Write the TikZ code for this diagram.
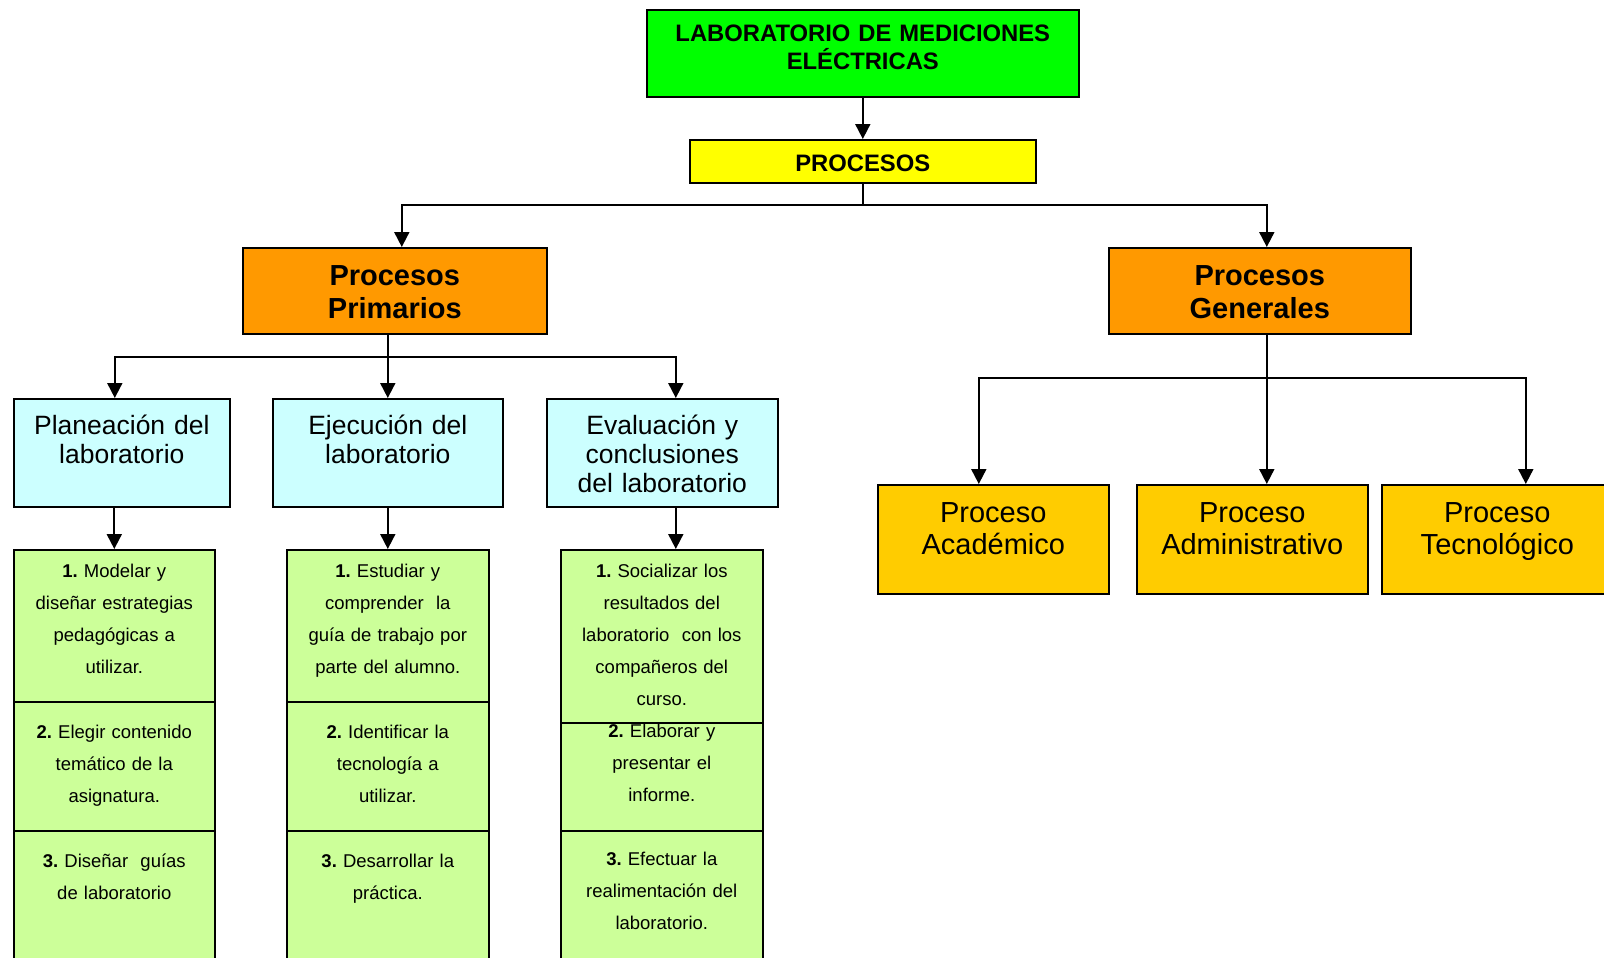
\documentclass[tikz,border=0pt]{standalone}
\usepackage{fontspec}
\setmainfont{Liberation Sans}
\usetikzlibrary{arrows.meta}
\definecolor{labgreen}{HTML}{00FF00}
\definecolor{procyellow}{HTML}{FFFF00}
\definecolor{mainorange}{HTML}{FF9900}
\definecolor{phasecyan}{HTML}{CCFFFF}
\definecolor{taskgreen}{HTML}{CCFF99}
\definecolor{areagold}{HTML}{FFCC00}
\frenchspacing

\begin{document}
\begin{tikzpicture}[
  x=1pt, y=-1pt,
  box/.style={draw, line width=1.6pt, inner sep=0pt, anchor=north west, align=center},
  dims/.style n args={3}{text width=#1pt, text height=#2pt, text depth=#3pt},
  head/.style={box, font=\bfseries\fontsize{23.8}{28.5}\selectfont},
  group/.style={box, fill=mainorange, font=\bfseries\fontsize{29}{33}\selectfont},
  phase/.style={box, fill=phasecyan, font=\fontsize{26.5}{29}\selectfont},
  task/.style={box, fill=taskgreen, font=\fontsize{18.5}{32}\selectfont},
  area/.style={box, fill=areagold, font=\fontsize{29}{32}\selectfont},
  link/.style={line width=1.9pt, -{Triangle[width=15pt,length=15pt]}}
]
\useasboundingbox (0,0) rectangle (1604,958);

% top
\node[head, fill=labgreen, dims={432}{31.5}{55.5}] (lab) at (646,9) {LABORATORIO DE MEDICIONES\\ELÉCTRICAS};
\node[head, fill=procyellow, dims={346}{32}{11}] (procesos) at (689,139) {PROCESOS};

% two groups
\node[group, dims={304}{38}{48}] (prim) at (242,247) {Procesos\\Primarios};
\node[group, dims={302}{38}{48}] (gen) at (1108,247) {Procesos\\Generales};

% phases of the lab
\node[phase, dims={216}{36}{72}] (plan) at (13,398) {Planeación del\\laboratorio};
\node[phase, dims={230}{36}{72}] (ejec) at (272,398) {Ejecución del\\laboratorio};
\node[phase, dims={231}{36}{72}] (eval) at (546,398) {Evaluación y\\conclusiones\\del laboratorio};

% tasks
\node[task, dims={201}{28}{124}] (c11) at (13,549) {\textbf{1.} Modelar y\\diseñar estrategias\\pedagógicas a\\utilizar.};
\node[task, dims={201}{37}{92}] (c12) at (13,701) {\textbf{2.} Elegir contenido\\temático de la\\asignatura.};
\node[task, dims={201}{37}{108}] (c13) at (13,830) {\textbf{3.} Diseñar\ \ guías\\de laboratorio};
\node[task, dims={202}{28}{124}] (c21) at (286,549) {\textbf{1.} Estudiar y\\comprender\ \ la\\guía de trabajo por\\parte del alumno.};
\node[task, dims={202}{37}{92}] (c22) at (286,701) {\textbf{2.} Identificar la\\tecnología a\\utilizar.};
\node[task, dims={202}{37}{108}] (c23) at (286,830) {\textbf{3.} Desarrollar la\\práctica.};
\node[task, dims={202}{28}{145}] (c31) at (560,549) {\textbf{1.} Socializar los\\resultados del\\laboratorio\ \ con los\\compañeros del\\curso.};
\node[task, dims={202}{15}{93}] (c32) at (560,722) {\textbf{2.} Elaborar y\\presentar el\\informe.};
\node[task, dims={202}{35}{110}] (c33) at (560,830) {\textbf{3.} Efectuar la\\realimentación del\\laboratorio.};

% general processes
\node[area, dims={231}{38}{71}] (acad) at (877,484) {Proceso\\Académico};
\node[area, dims={231}{38}{71}] (admin) at (1136,484) {Proceso\\Administrativo};
\node[area, dims={231}{38}{71}] (tecn) at (1381,484) {Proceso\\Tecnológico};

% connectors
\draw[link] (lab) -- (procesos);
\draw[link] (procesos.south) -- ++(0,21) -| ([xshift=7pt]prim.north);
\draw[link] (procesos.south) -- ++(0,21) -| ([xshift=7pt]gen.north);
\draw[link] ([xshift=-7pt]prim.south) -- ++(0,22) -| ([xshift=-7pt]plan.north);
\draw[link] ([xshift=-7pt]prim.south) -- ++(0,22) -| (ejec.north);
\draw[link] ([xshift=-7pt]prim.south) -- ++(0,22) -| ([xshift=13.5pt]eval.north);
\draw[link] ([xshift=7.5pt]gen.south) -- ++(0,43) -| ([xshift=-14.5pt]acad.north);
\draw[link] ([xshift=7.5pt]gen.south) -- ++(0,43) -| ([xshift=14.5pt]admin.north);
\draw[link] ([xshift=7.5pt]gen.south) -- ++(0,43) -| ([xshift=28.5pt]tecn.north);
\draw[link] (plan.south -| c11.north) -- (c11.north);
\draw[link] (ejec) -- (c21);
\draw[link] ([xshift=14pt]c31.north |- eval.south) -- ([xshift=14pt]c31.north);
\end{tikzpicture}
\end{document}
